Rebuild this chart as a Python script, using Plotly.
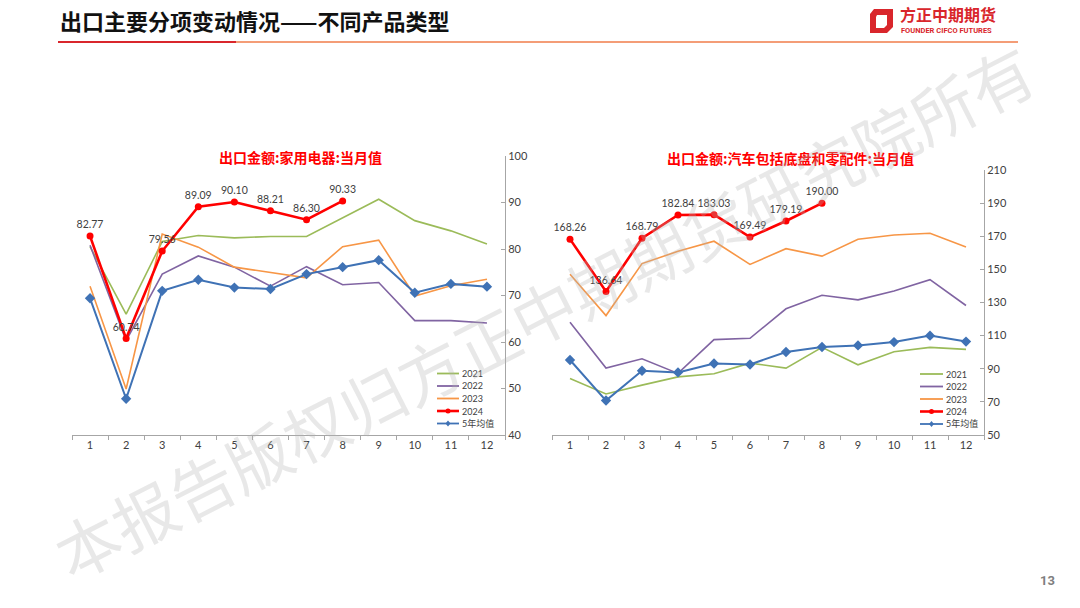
import plotly.graph_objects as go

W, H = 1080, 608

months = [str(m) for m in range(1, 13)]
months_2024 = months[:8]

# 出口金额:家用电器:当月值
appl_2021 = [80.5, 66.0, 81.6, 82.9, 82.4, 82.7, 82.7, 86.7, 90.7, 86.1, 83.9, 81.1]
appl_2022 = [80.8, 60.3, 74.6, 78.5, 76.1, 72.0, 76.2, 72.3, 72.8, 64.6, 64.6, 64.1]
appl_2023 = [72.0, 49.9, 83.2, 80.4, 76.1, 74.9, 73.8, 80.5, 81.9, 69.9, 72.1, 73.5]
appl_2024 = [82.77, 60.74, 79.56, 89.09, 90.10, 88.21, 86.30, 90.33]
appl_avg5 = [69.4, 47.8, 71.0, 73.4, 71.7, 71.4, 74.6, 76.1, 77.6, 70.6, 72.5, 71.9]

# 出口金额:汽车包括底盘和零配件:当月值
auto_2021 = [84.1, 74.8, 80.1, 85.1, 87.0, 93.4, 90.4, 102.9, 92.4, 100.3, 102.9, 101.7]
auto_2022 = [118.1, 90.4, 96.0, 87.2, 107.6, 108.4, 126.2, 134.4, 131.6, 136.9, 143.8, 128.2]
auto_2023 = [147.0, 122.1, 153.5, 160.9, 167.0, 153.0, 162.5, 158.0, 168.2, 170.8, 171.8, 163.5]
auto_2024 = [168.26, 136.64, 168.79, 182.84, 183.03, 169.49, 179.19, 190.00]
auto_avg5 = [95.3, 70.8, 88.8, 87.8, 93.2, 92.6, 100.1, 103.1, 104.1, 106.1, 110.0, 106.4]

series_names = ["2021", "2022", "2023", "2024", "5年均值"]
colors = ["#9BBB59", "#8064A2", "#F79646", "#FF0000", "#3F72B5"]

FONT = "Lato, 'Noto Sans CJK SC', sans-serif"
CJK = "'Noto Sans CJK SC', sans-serif"


# screen pixels -> paper coords
def px(x):
    return x / W


def py(y):
    return 1 - y / H


fig = go.Figure()


def add_panel(xa, ya, s2021, s2022, s2023, s2024, savg):
    for vals, c in zip([s2021, s2022, s2023], colors[:3]):
        fig.add_trace(go.Scatter(
            x=months, y=vals, mode="lines", xaxis=xa, yaxis=ya,
            line=dict(color=c, width=1.6), showlegend=False, hoverinfo="skip"))
    fig.add_trace(go.Scatter(
        x=months, y=savg, mode="lines+markers", xaxis=xa, yaxis=ya,
        line=dict(color=colors[4], width=2),
        marker=dict(symbol="diamond", size=8, color=colors[4]),
        showlegend=False))
    fig.add_trace(go.Scatter(
        x=months_2024, y=s2024, mode="lines+markers+text", xaxis=xa, yaxis=ya,
        line=dict(color=colors[3], width=2.6),
        marker=dict(symbol="circle", size=7, color=colors[3]),
        text=[f"{v:.2f}" for v in s2024], textposition="top center",
        textfont=dict(size=10.5, color="#404040", family=FONT),
        showlegend=False))


add_panel("x", "y", appl_2021, appl_2022, appl_2023, appl_2024, appl_avg5)
add_panel("x2", "y2", auto_2021, auto_2022, auto_2023, auto_2024, auto_avg5)

xcommon = dict(type="category", categoryorder="array", categoryarray=months,
               range=[-0.5, 11.5], autorange=False,
               tickson="boundaries", ticks="outside", ticklen=4,
               tickcolor="#a6a6a6", showline=True, linecolor="#a6a6a6",
               linewidth=1, showgrid=False, zeroline=False,
               tickfont=dict(size=11, color="#404040", family=FONT))
ycommon = dict(side="right", ticks="inside", ticklen=4, tickcolor="#a6a6a6",
               showline=True, linecolor="#a6a6a6", linewidth=1,
               showgrid=False, zeroline=False,
               tickfont=dict(size=11, color="#404040", family=FONT))

fig.update_layout(
    width=W, height=H,
    margin=dict(l=0, r=0, t=0, b=0, autoexpand=False),
    paper_bgcolor="white", plot_bgcolor="white",
    xaxis=dict(domain=[px(72), px(505)], anchor="y", **xcommon),
    yaxis=dict(domain=[py(435), py(156)], anchor="x", range=[40, 100],
               tick0=40, dtick=10, **ycommon),
    xaxis2=dict(domain=[px(552), px(984)], anchor="y2", **xcommon),
    yaxis2=dict(domain=[py(435), py(170)], anchor="x2", range=[50, 210],
                tick0=50, dtick=20, **ycommon),
)

shapes = []
annotations = []

# header
annotations.append(dict(
    text="<b>出口主要分项变动情况——不同产品类型</b>", x=px(58), y=py(20),
    xref="paper", yref="paper", xanchor="left", yanchor="middle",
    showarrow=False, font=dict(size=22, color="#111111", family=CJK)))
shapes.append(dict(type="line", xref="paper", yref="paper",
                   x0=px(58), x1=px(236), y0=py(42), y1=py(42),
                   line=dict(color="#D9262C", width=2.2)))
shapes.append(dict(type="line", xref="paper", yref="paper",
                   x0=px(236), x1=px(1018), y0=py(42), y1=py(42),
                   line=dict(color="#F07C4A", width=1.6)))

# logo
shapes.append(dict(type="path", xref="paper", yref="paper",
                   path=(f"M {px(874)},{py(9)} L {px(893)},{py(9)} L {px(893)},{py(27)} "
                         f"L {px(887)},{py(33)} L {px(870)},{py(33)} L {px(870)},{py(14)} Z"),
                   fillcolor="#D9262C", line=dict(width=0)))
shapes.append(dict(type="path", xref="paper", yref="paper",
                   path=(f"M {px(877)},{py(15)} L {px(887)},{py(15)} L {px(887)},{py(25)} "
                         f"L {px(884)},{py(28)} L {px(876)},{py(28)} L {px(876)},{py(17)} Z"),
                   fillcolor="white", line=dict(width=0)))
annotations.append(dict(
    text="<b>方正中期期货</b>", x=px(898), y=py(14), xref="paper", yref="paper",
    xanchor="left", yanchor="middle", showarrow=False,
    font=dict(size=16, color="#D9262C", family=CJK)))
annotations.append(dict(
    text="<b>FOUNDER CIFCO FUTURES</b>", x=px(899), y=py(30.5), xref="paper",
    yref="paper", xanchor="left", yanchor="middle", showarrow=False,
    font=dict(size=7.5, color="#D9262C", family="Roboto, sans-serif")))

# chart titles
annotations.append(dict(
    text="<b>出口金额:家用电器:当月值</b>", x=px(300), y=py(157), xref="paper",
    yref="paper", xanchor="center", yanchor="middle", showarrow=False,
    font=dict(size=14, color="#FF0000", family=CJK)))
annotations.append(dict(
    text="<b>出口金额:汽车包括底盘和零配件:当月值</b>", x=px(790), y=py(158),
    xref="paper", yref="paper", xanchor="center", yanchor="middle",
    showarrow=False, font=dict(size=14, color="#FF0000", family=CJK)))


# manual legends
def add_legend(x0, x1, ys):
    for name, c, yy in zip(series_names, colors, ys):
        wid = 2.6 if name == "2024" else 1.8
        shapes.append(dict(type="line", xref="paper", yref="paper",
                           x0=px(x0), x1=px(x1), y0=py(yy), y1=py(yy),
                           line=dict(color=c, width=wid)))
        xm = (x0 + x1) / 2
        if name == "2024":
            shapes.append(dict(type="circle", xref="paper", yref="paper",
                               x0=px(xm - 2.5), x1=px(xm + 2.5),
                               y0=py(yy + 2.5), y1=py(yy - 2.5),
                               fillcolor=c, line=dict(width=0)))
        elif name == "5年均值":
            shapes.append(dict(type="path", xref="paper", yref="paper",
                               path=(f"M {px(xm)},{py(yy - 3)} L {px(xm + 2.5)},{py(yy)} "
                                     f"L {px(xm)},{py(yy + 3)} L {px(xm - 2.5)},{py(yy)} Z"),
                               fillcolor=c, line=dict(width=0)))
        annotations.append(dict(
            text=name, x=px(x1 + 1), y=py(yy), xref="paper", yref="paper",
            xanchor="left", yanchor="middle", showarrow=False,
            font=dict(size=9, color="#404040", family=FONT)))


add_legend(437, 459, [373.5, 386, 398.5, 411, 423.5])
add_legend(920, 943, [374, 386.5, 399, 411.5, 424])

# watermark
annotations.append(dict(
    text="本报告版权归方正中期期货研究院所有", x=px(543), y=py(310),
    xref="paper", yref="paper", xanchor="center", yanchor="middle",
    showarrow=False, textangle=-27,
    font=dict(size=64, color="rgba(180,180,180,0.3)", family=CJK)))

# page number
annotations.append(dict(
    text="<b>13</b>", x=px(1047), y=py(580), xref="paper", yref="paper",
    xanchor="center", yanchor="middle", showarrow=False,
    font=dict(size=13, color="#7f7f7f", family="Roboto, sans-serif")))

fig.update_layout(shapes=shapes, annotations=annotations)

# drop the default 8px body margin so the figure fills the window
fig.write_html("out.html", config={"displayModeBar": False},
               post_script="document.body.style.margin = '0px';")
